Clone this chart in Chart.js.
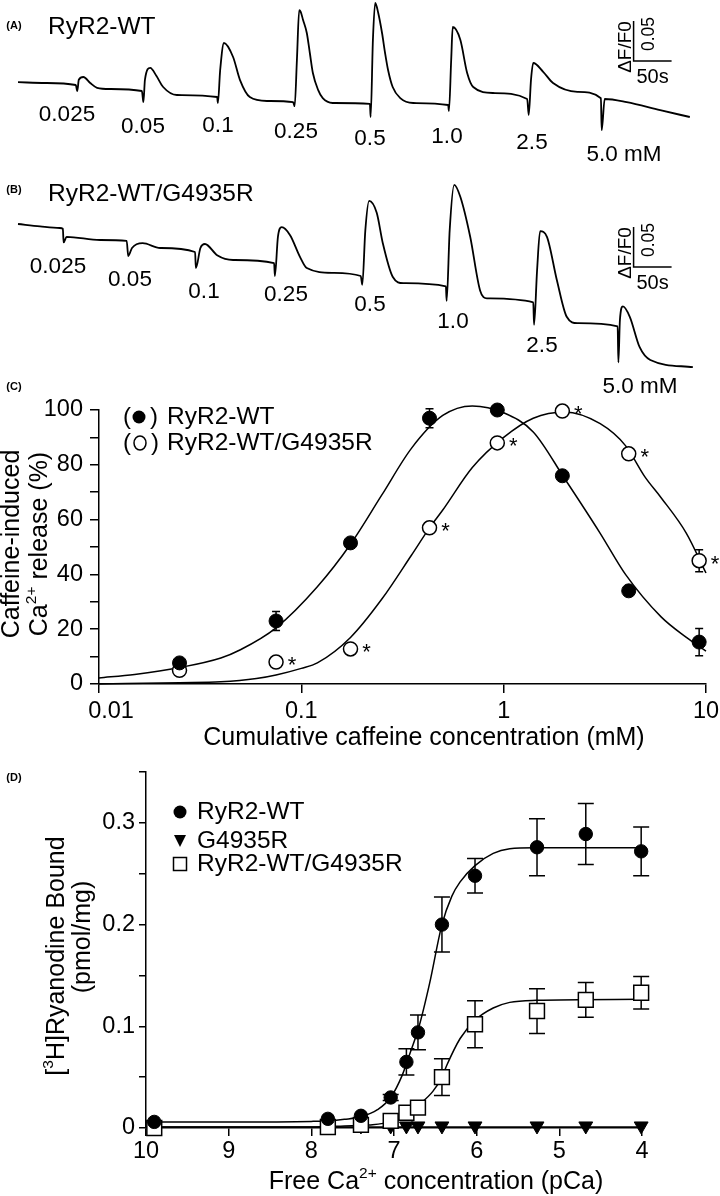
<!DOCTYPE html>
<html>
<head>
<meta charset="utf-8">
<title>RyR2 caffeine response and ryanodine binding</title>
<script src="https://cdn.jsdelivr.net/npm/chart.js@4.4.1/dist/chart.umd.min.js"></script>
<style>
  body { margin: 0; background: #fff; }
  #page { position: relative; width: 720px; height: 1196px; overflow: hidden; }
  canvas { position: absolute; left: 0; }
</style>
</head>
<body>
<div id="page">
  <canvas id="traceA" width="720" height="175" style="top:0px"></canvas>
  <canvas id="traceB" width="720" height="235" style="top:165px"></canvas>
  <canvas id="doseChart" width="720" height="390" style="top:370px"></canvas>
  <canvas id="bindChart" width="720" height="441" style="top:755px"></canvas>
</div>
<script>
const FONT = '"Liberation Sans", Arial, Helvetica, sans-serif';
Chart.defaults.font.family = FONT;
Chart.defaults.color = '#000';

// (A) / (B) fluorescence traces: time (s) vs dF/F0
const doses = ['0.025', '0.05', '0.1', '0.25', '0.5', '1.0', '2.5', '5.0 mM'];
const traceA_t = [0, 36, 76, 78, 80, 86, 95, 104, 121, 163, 165, 167, 174, 182, 191, 209, 262, 263, 266, 271,
  283, 292, 305, 328, 362, 364, 367, 370, 372, 375, 380, 384, 388, 395, 401, 414, 463, 464, 467, 470,
  474, 479, 483, 487, 493, 503, 520, 566, 567, 570, 572, 582, 591, 599, 625, 670, 672, 675, 678, 691,
  704, 736, 767, 768, 772, 801, 845, 884];
const traceA_v = [0.001, 0, -0.0025, -0.010, 0.004, 0.0075, 0, -0.006, -0.0075, -0.010, -0.024, 0.004, 0.019, 0.009, -0.005, -0.015, -0.0175, -0.025, 0.016, 0.050,
  0.0325, 0.004, -0.0175, -0.0225, -0.024, -0.029, 0.029, 0.091, 0.089, 0.079, 0.0625, 0.0375, 0.0125, -0.009, -0.019, -0.025, -0.026, -0.0425, 0.054, 0.100,
  0.0875, 0.0625, 0.0375, 0.016, -0.005, -0.019, -0.025, -0.0275, -0.035, 0.029, 0.070, 0.054, 0.0125, -0.005, -0.0125, -0.020, -0.040, 0.004, 0.025, 0.014,
  0, -0.011, -0.019, -0.059, -0.020, -0.024, -0.034, -0.0425];
const traceB_t = [0, 29, 55, 59, 60, 64, 108, 143, 145, 150, 164, 187, 233, 234, 240, 246, 262, 283, 337, 338,
  342, 347, 358, 371, 380, 414, 451, 453, 457, 462, 472, 480, 493, 507, 563, 564, 568, 574, 582, 595,
  608, 617, 678, 679, 683, 687, 696, 709, 722, 736, 789, 790, 792, 796, 805, 818, 832, 888];
const traceB_v = [0, -0.003, -0.005, -0.006, -0.023, -0.016, -0.020, -0.021, -0.040, -0.030, -0.024, -0.030, -0.035, -0.055, -0.030, -0.025, -0.039, -0.045, -0.049, -0.065,
  -0.016, -0.004, -0.014, -0.041, -0.055, -0.061, -0.065, -0.076, -0.008, 0.029, 0.014, -0.024, -0.066, -0.074, -0.078, -0.096, -0.008, 0.049, 0.034, -0.016,
  -0.083, -0.093, -0.098, -0.126, -0.058, -0.009, -0.016, -0.070, -0.116, -0.124, -0.128, -0.173, -0.120, -0.103, -0.116, -0.154, -0.170, -0.179];
const scaleBarSec = 50;
const scaleBarDff = 0.05;

// (C) caffeine-induced Ca2+ release (%)
const cafConc = [0.025, 0.075, 0.175, 0.43, 0.93, 1.95, 4.15, 9.25];
const relWT = [7.7, 23, 51.5, 97, 100, 76, 34, 15.3];
const relWTerr = [1, 3.5, 1, 3.5, 1, 1, 1, 5];
const relMut = [5, 8, 12.8, 57, 88, 99.6, 84, 45];
const relMutErr = [1, 1, 1, 2, 1, 1, 1, 4];
const relMutStar = [false, true, true, true, true, true, true, true];
const fitConcWT = [0.01, 0.015, 0.025, 0.04, 0.05, 0.075, 0.12, 0.175, 0.25, 0.35, 0.5, 0.7, 1.0, 1.4, 2, 3, 4, 6, 8, 10];
const fitWT = [2.2, 3.5, 6, 9.5, 12.5, 20.5, 35.5, 51, 69, 86, 98, 101.5, 99, 92, 75, 55, 40, 24.5, 17, 12];
const fitConcMut = [0.01, 0.025, 0.04, 0.06, 0.075, 0.1, 0.12, 0.175, 0.25, 0.35, 0.43, 0.5, 0.7, 1.0, 1.4, 2, 3, 4, 5, 6, 8, 10];
const fitMut = [0, 0.5, 0.8, 2, 3.3, 5.7, 7.7, 17, 31, 47, 57, 63.5, 79, 90, 97, 99.3, 95, 87, 75.5, 68, 55, 40.5];
const cTicks = [0.01, 0.1, 1, 10];

// (D) [3H]ryanodine bound (pmol/mg) vs pCa
const pCa = [9.9, 7.8, 7.4, 7.04, 6.85, 6.71, 6.42, 6.02, 5.27, 4.68, 4.01];
const ryWT = [0.006, 0.009, 0.012, 0.030, 0.065, 0.094, 0.200, 0.248, 0.276, 0.289, 0.272];
const ryWTerr = [0, 0, 0, 0.003, 0.013, 0.017, 0.027, 0.017, 0.028, 0.030, 0.024];
const ryMut = [0.002, 0.002, 0.002, 0.002, 0.002, 0.002, 0.002, 0.002, 0.002, 0.002, 0.002];
const ryHet = [0.000, 0.001, 0.003, 0.007, 0.015, 0.020, 0.050, 0.102, 0.115, 0.126, 0.133];
const ryHetErr = [0, 0, 0, 0, 0, 0.003, 0.018, 0.023, 0.022, 0.017, 0.016];
const fitPcaWT = [10, 9, 8, 7.8, 7.6, 7.4, 7.2, 7.04, 6.9, 6.8, 6.7, 6.57, 6.42, 6.3, 6.2, 6.02, 5.8, 5.6, 5.3, 4];
const fitRyWT = [0.006, 0.006, 0.0065, 0.007, 0.0085, 0.011, 0.018, 0.030, 0.052, 0.075, 0.099, 0.142, 0.200, 0.228, 0.242, 0.258, 0.270, 0.2745, 0.2755, 0.2755];
const fitPcaHet = [10, 8, 7.6, 7.3, 7.04, 6.84, 6.71, 6.53, 6.42, 6.36, 6.2, 6.02, 5.8, 5.6, 5.28, 4];
const fitRyHet = [0.001, 0.001, 0.002, 0.003, 0.006, 0.013, 0.022, 0.036, 0.050, 0.062, 0.088, 0.106, 0.118, 0.1235, 0.1255, 0.1265];
const fitPcaMut = [10, 4];
const fitRyMut = [0.001, 0.001];

const xy = (xs, ys) => xs.map((x, i) => ({ x: x, y: ys[i] }));

// text with optional superscript parts: [[text, isSup], ...]
function say(ctx, parts, x, y, size, opt) {
  opt = opt || {};
  if (typeof parts === 'string') parts = [[parts, false]];
  const weight = opt.bold ? 'bold ' : '';
  const fontOf = p => weight + (p[1] ? size * 0.62 : size) + 'px ' + FONT;
  ctx.save();
  ctx.translate(x, y);
  if (opt.rot) ctx.rotate(opt.rot);
  ctx.fillStyle = '#000';
  ctx.textBaseline = 'middle';
  ctx.textAlign = 'left';
  const widths = parts.map(p => { ctx.font = fontOf(p); return ctx.measureText(p[0]).width; });
  const total = widths.reduce((a, b) => a + b, 0);
  let cx = opt.align === 'left' ? 0 : opt.align === 'right' ? -total : -total / 2;
  parts.forEach((p, i) => {
    ctx.font = fontOf(p);
    ctx.fillText(p[0], cx, p[1] ? -size * 0.33 : 0);
    cx += widths[i];
  });
  ctx.restore();
}

const axisBorder = { display: true, color: '#000', width: 1.5 };
const axisGrid = len => ({ display: true, drawOnChartArea: false, drawTicks: true, tickLength: len, color: '#000', lineWidth: 1.5 });
const baseOpts = { responsive: false, animation: false, devicePixelRatio: 1 };
const noPlugins = { legend: { display: false }, tooltip: { enabled: false } };

function errorBars(specs) {
  return {
    id: 'errorBars',
    beforeDatasetsDraw(chart) {
      const ctx = chart.ctx, xs = chart.scales.x, ys = chart.scales.y;
      ctx.save();
      ctx.strokeStyle = '#000';
      ctx.lineWidth = 1.5;
      specs.forEach(s => {
        chart.data.datasets[s.ds].data.forEach((p, i) => {
          const e = s.err[i];
          if (!e) return;
          const x = xs.getPixelForValue(p.x);
          const y1 = ys.getPixelForValue(p.y - e), y2 = ys.getPixelForValue(p.y + e);
          ctx.beginPath();
          ctx.moveTo(x, y1); ctx.lineTo(x, y2);
          ctx.moveTo(x - s.cap, y1); ctx.lineTo(x + s.cap, y1);
          ctx.moveTo(x - s.cap, y2); ctx.lineTo(x + s.cap, y2);
          ctx.stroke();
        });
      });
      ctx.restore();
    }
  };
}

// ---------- (A) and (B)
function traceChart(id, t, v, lay) {
  const barT = 810;
  return new Chart(document.getElementById(id), {
    type: 'line',
    data: {
      datasets: [
        { data: xy(t, v), borderColor: '#000', borderWidth: 1.8, pointRadius: 0, cubicInterpolationMode: 'monotone' },
        { data: [{ x: barT, y: lay.barV + scaleBarDff }, { x: barT, y: lay.barV }, { x: barT + scaleBarSec, y: lay.barV }],
          borderColor: '#000', borderWidth: 1.5, pointRadius: 0, tension: 0 }
      ]
    },
    options: Object.assign({}, baseOpts, {
      layout: { padding: 0 },
      plugins: noPlugins,
      scales: {
        x: { type: 'linear', display: false, min: -23.7, max: 923.7 },
        y: { display: false, min: lay.yMin, max: lay.yMax }
      }
    }),
    plugins: [{
      id: 'traceText',
      afterDraw(chart) {
        const ctx = chart.ctx, top = lay.top;
        say(ctx, lay.letter, 14, lay.letterY - top, 11, { bold: true });
        say(ctx, lay.title, 48, lay.titleY - top, 24.5, { align: 'left' });
        doses.forEach((d, i) => say(ctx, d, lay.labels[i][0], lay.labels[i][1] - top, 22.5));
        const bx = chart.scales.x.getPixelForValue(barT);
        const by = chart.scales.y.getPixelForValue(lay.barV);
        say(ctx, '\u0394F/F0', bx - 8, by - 14, 19, { rot: -Math.PI / 2 });
        say(ctx, '0.05', bx + 16, by - 27, 17.5, { rot: -Math.PI / 2 });
        say(ctx, '50s', bx + 19, by + 16, 20);
      }
    }]
  });
}

traceChart('traceA', traceA_t, traceA_v, {
  top: 0, yMin: -0.115, yMax: 0.10375, barV: 0.0275,
  letter: '(A)', letterY: 26, title: 'RyR2-WT', titleY: 27,
  labels: [[67, 115], [143, 127], [218, 126], [296, 132], [370, 139], [447, 137], [532, 143], [624, 155]]
});
traceChart('traceB', traceB_t, traceB_v, {
  top: 165, yMin: -0.22, yMax: 0.07375, barV: -0.05375,
  letter: '(B)', letterY: 190, title: 'RyR2-WT/G4935R', titleY: 194,
  labels: [[58, 267], [130, 280], [204, 292], [286, 295], [370, 305], [453, 322], [542, 346], [640, 387]]
});

// ---------- (C)
new Chart(document.getElementById('doseChart'), {
  type: 'line',
  data: {
    datasets: [
      { data: xy(cafConc, relWT), showLine: false, pointRadius: 7, pointBackgroundColor: '#000',
        pointBorderColor: '#000', pointBorderWidth: 1, clip: false, order: 1 },
      { data: xy(cafConc, relMut), showLine: false, pointRadius: 7, pointBackgroundColor: '#fff',
        pointBorderColor: '#000', pointBorderWidth: 1.5, clip: false, order: 2 },
      { data: xy(fitConcWT, fitWT), borderColor: '#000', borderWidth: 1.5, pointRadius: 0,
        cubicInterpolationMode: 'monotone', clip: false, order: 5 },
      { data: xy(fitConcMut, fitMut), borderColor: '#000', borderWidth: 1.5, pointRadius: 0,
        cubicInterpolationMode: 'monotone', clip: false, order: 5 }
    ]
  },
  options: Object.assign({}, baseOpts, {
    layout: { padding: { top: 40, right: 14, left: 0, bottom: 0 } },
    plugins: noPlugins,
    scales: {
      x: {
        type: 'logarithmic', min: 0.01, max: 10,
        afterBuildTicks: s => { s.ticks = cTicks.map(v => ({ value: v })); },
        ticks: { display: false, autoSkip: false },
        grid: axisGrid(9), border: axisBorder,
        afterFit: s => { s.height = 76; }
      },
      y: {
        min: 0, max: 100,
        ticks: { display: false, stepSize: 10, autoSkip: false },
        grid: axisGrid(9), border: axisBorder,
        afterFit: s => { s.width = 99; }
      }
    }
  }),
  plugins: [
    errorBars([{ ds: 0, err: relWTerr, cap: 4 }, { ds: 1, err: relMutErr, cap: 4 }]),
    {
      id: 'doseText',
      afterDraw(chart) {
        const ctx = chart.ctx, xs = chart.scales.x, ys = chart.scales.y;
        xs.ticks.forEach((tk, i) => {
          say(ctx, String(tk.value), xs.getPixelForValue(tk.value) + (i === 0 ? 12 : 0), 342, 23.5);
        });
        ys.ticks.forEach(tk => {
          if (Math.round(tk.value) % 20 !== 0) return;
          say(ctx, String(Math.round(tk.value)), 83, ys.getPixelForValue(tk.value), 23.5, { align: 'right' });
        });
        say(ctx, 'Cumulative caffeine concentration (mM)', 424, 368, 25);
        say(ctx, 'Caffeine-induced', 12, 174, 25, { rot: -Math.PI / 2 });
        say(ctx, [['Ca', false], ['2+', true], [' release (%)', false]], 40, 174, 25, { rot: -Math.PI / 2 });
        say(ctx, '(C)', 14, 17, 11, { bold: true });
        // legend
        say(ctx, '(', 127, 47, 24);
        ctx.save();
        ctx.fillStyle = '#000';
        ctx.beginPath(); ctx.arc(139, 47, 6.5, 0, Math.PI * 2); ctx.fill();
        ctx.restore();
        say(ctx, ')', 154, 47, 24);
        say(ctx, 'RyR2-WT', 167, 47, 24.5, { align: 'left' });
        say(ctx, '(', 127, 73, 24);
        ctx.save();
        ctx.strokeStyle = '#000'; ctx.lineWidth = 1.5;
        ctx.beginPath(); ctx.ellipse(140, 73, 6, 7, 0, 0, Math.PI * 2); ctx.stroke();
        ctx.restore();
        say(ctx, ')', 155, 73, 24);
        say(ctx, 'RyR2-WT/G4935R', 167, 73, 24.5, { align: 'left' });
        // significance marks
        ctx.save();
        ctx.fillStyle = '#000';
        ctx.font = '22px ' + FONT;
        ctx.textAlign = 'center';
        ctx.textBaseline = 'alphabetic';
        chart.data.datasets[1].data.forEach((p, i) => {
          if (!relMutStar[i]) return;
          ctx.fillText('*', xs.getPixelForValue(p.x) + 16, ys.getPixelForValue(p.y) + 10);
        });
        ctx.restore();
      }
    }
  ]
});

// ---------- (D)
new Chart(document.getElementById('bindChart'), {
  type: 'line',
  data: {
    datasets: [
      { data: xy(pCa, ryWT), showLine: false, pointRadius: 6.7, pointBackgroundColor: '#000',
        pointBorderColor: '#000', pointBorderWidth: 1, clip: false, order: 1 },
      { data: xy(pCa, ryHet), showLine: false, pointStyle: 'rect', pointRadius: 10.5, pointBackgroundColor: '#fff',
        pointBorderColor: '#000', pointBorderWidth: 1.5, clip: false, order: 2 },
      { data: xy(pCa, ryMut), showLine: false, pointStyle: 'triangle', rotation: 180, pointRotation: 180, pointRadius: 8,
        pointBackgroundColor: '#000', pointBorderColor: '#000', pointBorderWidth: 1, clip: false, order: 3 },
      { data: xy(fitPcaWT, fitRyWT), borderColor: '#000', borderWidth: 1.5, pointRadius: 0,
        cubicInterpolationMode: 'monotone', clip: false, order: 6 },
      { data: xy(fitPcaHet, fitRyHet), borderColor: '#000', borderWidth: 1.5, pointRadius: 0,
        cubicInterpolationMode: 'monotone', clip: false, order: 6 },
      { data: xy(fitPcaMut, fitRyMut), borderColor: '#000', borderWidth: 1.5, pointRadius: 0, clip: false, order: 6 }
    ]
  },
  options: Object.assign({}, baseOpts, {
    layout: { padding: { top: 17, right: 78, left: 0, bottom: 0 } },
    plugins: noPlugins,
    scales: {
      x: {
        type: 'linear', reverse: true, min: 4, max: 10,
        ticks: { display: false, stepSize: 1, autoSkip: false },
        grid: axisGrid(8), border: axisBorder,
        afterFit: s => { s.height = 68; }
      },
      y: {
        min: 0, max: 0.35,
        ticks: { display: false, stepSize: 0.05, autoSkip: false },
        grid: axisGrid(7), border: axisBorder,
        afterFit: s => { s.width = 146; }
      }
    }
  }),
  plugins: [
    errorBars([{ ds: 0, err: ryWTerr, cap: 8 }, { ds: 1, err: ryHetErr, cap: 8 }]),
    {
      id: 'bindText',
      afterDraw(chart) {
        const ctx = chart.ctx, xs = chart.scales.x, ys = chart.scales.y;
        xs.ticks.forEach(tk => {
          say(ctx, String(Math.round(tk.value)), xs.getPixelForValue(tk.value), 397, 23.5);
        });
        ys.ticks.forEach(tk => {
          const k = Math.round(tk.value * 100);
          if (k % 10 !== 0) return;
          say(ctx, k === 0 ? '0' : (k / 100).toFixed(1), 135, ys.getPixelForValue(tk.value), 23.5, { align: 'right' });
        });
        say(ctx, [['Free Ca', false], ['2+', true], [' concentration (pCa)', false]], 436, 427, 25);
        say(ctx, [['[', false], ['3', true], ['H]Ryanodine Bound', false]], 57, 201, 25, { rot: -Math.PI / 2 });
        say(ctx, '(pmol/mg)', 83, 182, 25, { rot: -Math.PI / 2 });
        say(ctx, '(D)', 14, 23, 11, { bold: true });
        // legend
        ctx.save();
        ctx.fillStyle = '#000'; ctx.strokeStyle = '#000'; ctx.lineWidth = 1.5;
        ctx.beginPath(); ctx.arc(180, 57, 6.5, 0, Math.PI * 2); ctx.fill();
        ctx.beginPath(); ctx.moveTo(174, 80); ctx.lineTo(186, 80); ctx.lineTo(180, 92); ctx.closePath(); ctx.fill();
        ctx.fillStyle = '#fff';
        ctx.beginPath(); ctx.rect(173.5, 102.5, 13, 13); ctx.fill(); ctx.stroke();
        ctx.restore();
        say(ctx, 'RyR2-WT', 197, 57, 24.5, { align: 'left' });
        say(ctx, 'G4935R', 197, 86, 24.5, { align: 'left' });
        say(ctx, 'RyR2-WT/G4935R', 197, 109, 24.5, { align: 'left' });
      }
    }
  ]
});
</script>
</body>
</html>
